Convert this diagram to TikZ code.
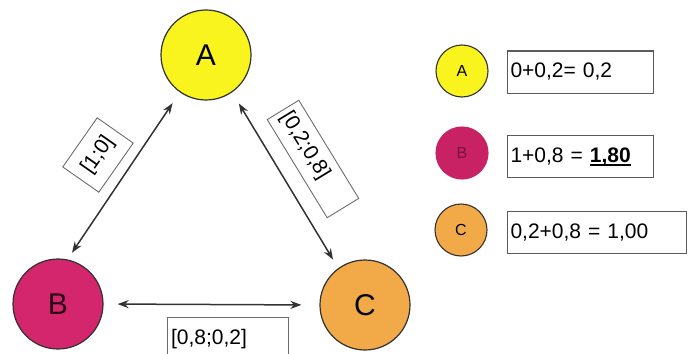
\documentclass[tikz,border=0pt]{standalone}
\usepackage{fontspec}
\setmainfont{Liberation Sans}
\usetikzlibrary{arrows.meta}
\definecolor{ayellow}{RGB}{250,244,30}
\definecolor{bmagenta}{RGB}{212,38,108}
\definecolor{bdark}{RGB}{200,34,100}
\definecolor{corange}{RGB}{242,170,72}
\definecolor{darkline}{RGB}{50,50,50}
\newcommand{\boldul}[1]{\setbox0\hbox{\textbf{#1}}\rlap{\rule[-3.5pt]{\wd0}{1.8pt}}\box0}

\begin{document}
\begin{tikzpicture}[x=1pt,y=-1pt,
  bigball/.style={circle,draw=darkline,line width=1.2pt,minimum size=90pt,inner sep=0pt,font=\fontsize{30}{30}\selectfont},
  smallball/.style={circle,draw=darkline,line width=1.1pt,minimum size=52pt,inner sep=0pt,font=\fontsize{16}{16}\selectfont},
  weight/.style={draw=gray!85!black,line width=0.9pt,font=\fontsize{21}{21}\selectfont,inner sep=4pt},
  sumbox/.style={draw=darkline!80,line width=1pt,font=\fontsize{21}{21}\selectfont,inner sep=3pt,align=left,minimum height=42pt},
  link/.style={darkline,line width=1.5pt,{Stealth[length=11pt,width=8pt]}-{Stealth[length=11pt,width=8pt]}}]
\useasboundingbox (0,0) rectangle (692,353);

% Define nodes
\node[bigball,fill=ayellow] (A) at (206,55) {A};
\node[bigball,fill=bmagenta,text=black!80!bmagenta] (B) at (58,304) {B};
\node[bigball,fill=corange] (C) at (365,305) {C};

\node[weight,rotate=55,minimum width=60pt,minimum height=44pt,align=center] (wAB) at (98,155) {[1;0]};
\node[weight,rotate=-58.6,text width=107pt,minimum height=37pt,align=left] (wAC) at (313,159) {[0,2;0,8]};
\node[weight,text width=113pt,minimum height=44pt,align=left] (wBC) at (227.5,339.5) {[0,8;0,2]};

\node[smallball,fill=ayellow] (sA) at (462,71) {A};
\node[smallball,fill=bdark,draw=bdark,text=bdark!60!black] (sB) at (462,153) {B};
\node[smallball,fill=corange] (sC) at (461,230) {C};

\node[sumbox,text width=140pt,anchor=west] (tA) at (507,72) {0+0,2= 0,2};
\node[sumbox,text width=140pt,anchor=west] (tB) at (507,156.5) {1+0,8 = \boldul{1,80}};
\node[sumbox,text width=173pt,anchor=west] (tC) at (507,232.5) {0,2+0,8 = 1,00};

% Draw arrows
\draw[link,shorten <=13pt,shorten >=8pt] (A.235) -- (B.78);
\draw[link,shorten <=13pt,shorten >=10pt] (A.305) -- (C.126);
\draw[link,shorten <=14pt,shorten >=18pt] (B.east) -- (C.west);
\end{tikzpicture}
\end{document}
